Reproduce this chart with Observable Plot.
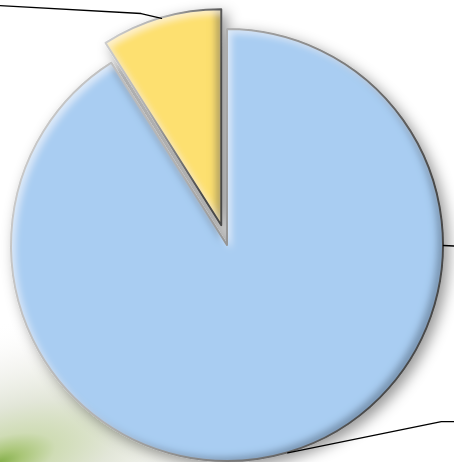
<!DOCTYPE html>
<html><head><meta charset="utf-8">
<script src="https://cdn.jsdelivr.net/npm/d3@7"></script>
<script src="https://cdn.jsdelivr.net/npm/@observablehq/plot@0.6"></script>
<style>html,body{margin:0;padding:0;background:#fff;overflow:hidden}</style>
</head><body><div id="chart"></div>
<script>
// ---- data ----
const categories = ["Category A", "Category B"];
const values = [91, 9];
const colors = ["#a9cdf2", "#fde070"];
const explode = [0, 0.095];           // fraction of radius
// leader lines: slice index, angle on rim (deg, null = slice middle), and outer points (unit coords)
const leaderSlices = [1, 0, 0];
const leaderAngles = [null, null, 90];
const leaderPoints = [
  [[-0.40, 1.074], [-1.20, 1.119]],
  [[0.99, -0.815], [1.20, -0.815]],
  [[1.20, -0.01]]
];

const data = categories.map((c, i) => ({category: c, value: values[i], color: colors[i], explode: explode[i]}));
const arcs = d3.pie().sort(null).value(d => d.value)(data);

const ns = "http://www.w3.org/2000/svg";
function el(name, attrs) {
  const e = document.createElementNS(ns, name);
  for (const k in attrs) e.setAttribute(k, attrs[k]);
  return e;
}

function sliceOffset(a) {
  const mid = (a.startAngle + a.endAngle) / 2;
  return [Math.sin(mid) * a.data.explode, Math.cos(mid) * a.data.explode];
}

// leader line table in unit coordinates
const leaderRows = [];
leaderSlices.forEach((s, i) => {
  const a = arcs[s];
  const ang = leaderAngles[i] == null ? (a.startAngle + a.endAngle) / 2 : leaderAngles[i] * Math.PI / 180;
  const [ox, oy] = sliceOffset(a);
  const pts = [[ox + Math.sin(ang), oy + Math.cos(ang)], ...leaderPoints[i]];
  pts.forEach(p => leaderRows.push({id: i, x: p[0], y: p[1]}));
});

function background(index, scales, values, dim) {
  const g = el("g", {});
  const H = dim.height;
  g.innerHTML = `
  <defs>
    <radialGradient id="green" cx="0" cy="${H}" r="320" gradientUnits="userSpaceOnUse"
      gradientTransform="translate(0 ${H}) rotate(-18) scale(1 0.42) translate(0 ${-H})">
      <stop offset="0" stop-color="#86b04c"/>
      <stop offset="0.07" stop-color="#a9c677"/>
      <stop offset="0.18" stop-color="#cfdcb5"/>
      <stop offset="0.38" stop-color="#e2e6d8"/>
      <stop offset="0.7" stop-color="#f2f2ee" stop-opacity="0.6"/>
      <stop offset="1" stop-color="#ffffff" stop-opacity="0"/>
    </radialGradient>
  </defs>
  <rect x="0" y="0" width="${dim.width}" height="${H}" fill="#fff"/>
  <rect x="0" y="0" width="${dim.width}" height="${H}" fill="url(#green)"/>`;
  return g;
}

function pie(index, scales) {
  const r = scales.x(1) - scales.x(0);
  const g = el("g", {});
  const defs = el("defs", {});
  defs.innerHTML = `
  <linearGradient id="rim" x1="0" y1="0" x2="1" y2="0.3">
    <stop offset="0" stop-color="#d0d0d0"/>
    <stop offset="0.45" stop-color="#b0b0b0"/>
    <stop offset="1" stop-color="#4a4a4a"/>
  </linearGradient>
  <filter id="shadow" x="-20%" y="-20%" width="140%" height="140%">
    <feDropShadow dx="5" dy="5" stdDeviation="7" flood-color="#000" flood-opacity="0.4"/>
  </filter>
  <filter id="bevel" x="-10%" y="-10%" width="120%" height="120%">
    <feGaussianBlur in="SourceAlpha" stdDeviation="3.5" result="blur"/>
    <feOffset in="blur" dx="-6" dy="-4" result="offA"/>
    <feComposite in="SourceAlpha" in2="offA" operator="out" result="rimRB"/>
    <feFlood flood-color="#2f3f55" flood-opacity="0.55"/>
    <feComposite in2="rimRB" operator="in" result="darkRim"/>
    <feOffset in="blur" dx="4" dy="4" result="offB"/>
    <feComposite in="SourceAlpha" in2="offB" operator="out" result="rimLT"/>
    <feFlood flood-color="#ffffff" flood-opacity="0.55"/>
    <feComposite in2="rimLT" operator="in" result="lightRim"/>
    <feMerge><feMergeNode in="SourceGraphic"/><feMergeNode in="darkRim"/><feMergeNode in="lightRim"/></feMerge>
  </filter>`;
  g.appendChild(defs);
  const arcGen = d3.arc().innerRadius(0).outerRadius(r);
  const outer = el("g", {filter: "url(#shadow)"});
  arcs.forEach(a => {
    const [ox, oy] = sliceOffset(a);
    const tx = scales.x(ox), ty = scales.y(oy);
    const sg = el("g", {transform: `translate(${tx},${ty})`});
    sg.appendChild(el("path", {d: arcGen(a), fill: a.data.color, filter: "url(#bevel)"}));
    sg.appendChild(el("path", {d: arcGen(a), fill: "none", stroke: "url(#rim)", "stroke-width": 2,
      "stroke-linejoin": "round"}));
    outer.appendChild(sg);
  });
  g.appendChild(outer);
  return g;
}

const chart = Plot.plot({
  width: 454,
  height: 462,
  margin: 0,
  style: {background: "white"},
  x: {domain: [-1, 1], range: [11, 443], axis: null},
  y: {domain: [-1, 1], range: [461, 29], axis: null},
  marks: [
    background,
    pie,
    Plot.line(leaderRows, {x: "x", y: "y", z: "id", stroke: "#000", strokeWidth: 1.3})
  ]
});
document.getElementById("chart").appendChild(chart);
</script>
</body></html>
